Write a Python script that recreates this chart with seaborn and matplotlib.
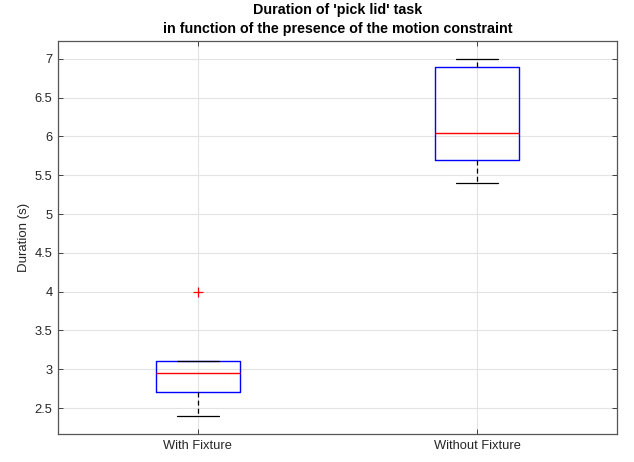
import numpy as np
import pandas as pd
import matplotlib
matplotlib.use("Agg")
import matplotlib.pyplot as plt
import seaborn as sns

# Task durations (seconds) for each condition
conditions = ["With Fixture", "Without Fixture"]
with_fixture = [2.4, 2.7, 2.95, 3.1, 4.0]
without_fixture = [5.4, 5.7, 6.05, 6.9, 7.0]
yticks = [2.5, 3, 3.5, 4, 4.5, 5, 5.5, 6, 6.5, 7]

df = pd.DataFrame({
    "condition": [conditions[0]] * len(with_fixture) + [conditions[1]] * len(without_fixture),
    "duration": with_fixture + without_fixture,
})

sns.set_theme(style="white")
plt.rcParams["font.family"] = ["Liberation Sans", "DejaVu Sans"]

fig = plt.figure(figsize=(6.34, 4.62), dpi=100)
ax = fig.add_axes([58 / 634, 1 - 434 / 462, (617 - 58) / 634, (434 - 41) / 462])

sns.boxplot(
    data=df, x="condition", y="duration", order=conditions,
    width=0.3, fill=False, whis=1.5, ax=ax,
    boxprops=dict(color="#0000ff", linewidth=1.0),
    medianprops=dict(color="#ff0000", linewidth=1.0, zorder=5),
    whiskerprops=dict(color="black", linestyle=(0, (4, 2.5)), linewidth=0.9),
    capprops=dict(color="black", linewidth=0.9),
    flierprops=dict(marker="+", markeredgecolor="#ff0000", markersize=6.5, markeredgewidth=0.9),
)

ax.set_xlim(-0.5, 1.5)
ax.set_ylim(2.165, 7.23)
ax.set_yticks(yticks)
ax.set_yticklabels([f"{v:g}" for v in yticks])
ax.grid(True, color="#e3e3e3", linewidth=0.8)
ax.set_axisbelow(True)
ax.tick_params(direction="in", length=3.5, width=0.7, colors="#404040",
               labelcolor="#262626", labelsize=9.3, pad=4,
               top=True, right=True, bottom=True, left=True)
for s in ax.spines.values():
    s.set_visible(True)
    s.set_color("#555555")
    s.set_linewidth(0.9)
ax.set_xlabel("")
ax.set_ylabel("Duration (s)", fontsize=9.5, color="#262626", labelpad=3)
ax.set_title("Duration of 'pick lid' task\nin function of the presence of the motion constraint",
             fontsize=10.3, fontweight="bold", color="black", pad=6, linespacing=1.4)

fig.savefig("out.png", dpi=100)
